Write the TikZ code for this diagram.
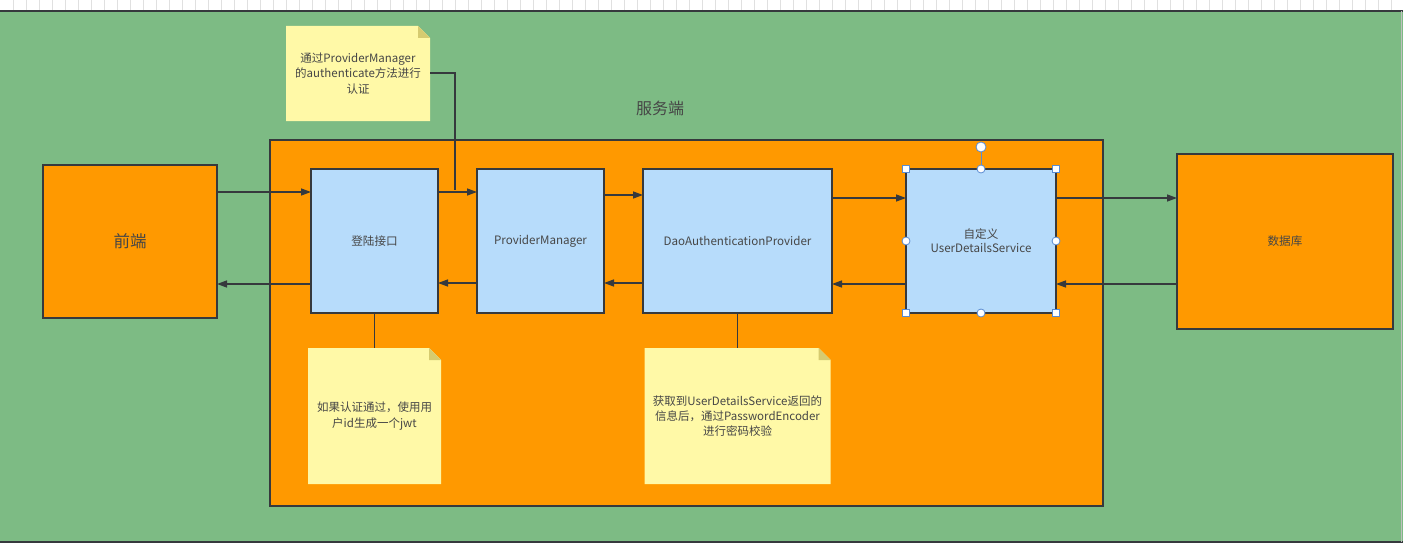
\documentclass[tikz,border=0pt]{standalone}
\usepackage{fontspec}
\setmainfont{Noto Sans CJK SC}
\usetikzlibrary{positioning, arrows.meta}

\definecolor{canvas}{RGB}{125,187,132}
\definecolor{serverorange}{RGB}{255,153,0}
\definecolor{serviceblue}{RGB}{183,220,251}
\definecolor{notefill}{RGB}{255,249,167}
\definecolor{notefold}{RGB}{214,203,112}
\definecolor{edge}{RGB}{54,57,61}
\definecolor{textgrey}{RGB}{70,70,70}
\definecolor{gripblue}{RGB}{90,140,210}

\begin{document}
\begin{tikzpicture}[x=1pt, y=-1pt, node distance=39pt,
    every node/.style={inner sep=0pt, outer sep=0pt, text=textgrey,
        font=\fontsize{11.6}{14}\selectfont},
    block/.style={draw=edge, line width=1.4pt, fill=serverorange},
    service/.style={draw=edge, line width=1.4pt, fill=serviceblue,
        minimum height=144pt, align=center},
    memo/.style={align=center, font=\fontsize{11.5}{15.2}\selectfont,
        path picture={
            \fill[notefill] (path picture bounding box.north west)
                -- ([xshift=-12pt]path picture bounding box.north east)
                -- ([yshift=-12pt]path picture bounding box.north east)
                -- (path picture bounding box.south east)
                -- (path picture bounding box.south west) -- cycle;
            \fill[notefold] ([xshift=-12pt]path picture bounding box.north east)
                -- ([xshift=-12pt,yshift=-12pt]path picture bounding box.north east)
                -- ([yshift=-12pt]path picture bounding box.north east) -- cycle;
        }},
    flow/.style={draw=edge, line width=1.4pt, -{Triangle[length=10pt,width=7pt]}},
    link/.style={draw=edge, line width=1.4pt},
    grip/.style={draw=gripblue, fill=white, line width=0.8pt, minimum size=7pt},
    knob/.style={grip, circle, minimum size=8pt}]

    % window
    \useasboundingbox (0,0) rectangle (1403,543);
    \fill[canvas] (0,0) rectangle (1403,543);
    \fill[white] (0,0) rectangle (1403,11);
    \foreach \x in {13,26,...,1400}
        \draw[black!12, line width=0.6pt] (\x,0) -- (\x,10);
    \draw[edge, line width=1.5pt] (0,11) -- (1403,11);
    \draw[edge, line width=1.5pt] (0,542) -- (1403,542);
    \draw[black!25, line width=0.8pt] (1401.5,11) -- (1401.5,542);

    % server
    \node[block, minimum width=833pt, minimum height=366pt] (server) at (686.5,323) {};
    \node[font=\fontsize{16}{18}\selectfont] (serverlabel) at (660,108) {服务端};

    \node[block, minimum width=174pt, minimum height=153pt,
        font=\fontsize{16.5}{18}\selectfont] (front) at (130,241.5) {前端};
    \node[service, minimum width=127pt] (login) at (374.5,241) {登陆接口};
    \node[service, minimum width=127pt] (pm) [right=of login] {ProviderManager};
    \node[service, minimum width=189pt] (dao) [right=of pm] {DaoAuthenticationProvider};
    \node[service, minimum width=150pt] (uds) [right=74pt of dao] {自定义\\UserDetailsService};
    \node[block, minimum width=216pt, minimum height=175pt] (db) at (1285,241.5) {数据库};

    % notes
    \node[memo, minimum width=144pt, minimum height=95pt] (authnote) at (358,73.5)
        {通过ProviderManager\\的authenticate方法进行\\认证};
    \node[memo, minimum width=133pt, minimum height=136pt] (jwtnote) [below=35pt of login]
        {如果认证通过，使用用\\户id生成一个jwt};
    \node[memo, minimum width=186pt, minimum height=136pt] (pwdnote) [below=35pt of dao]
        {获取到UserDetailsService返回的\\信息后，通过PasswordEncoder\\进行密码校验};

    % requests
    \draw[flow] (front.east |- 0,192) -- (login.west |- 0,192);
    \draw[flow] (login.east |- 0,192) -- (pm.west |- 0,192);
    \draw[flow] (pm.east |- 0,195) -- (dao.west |- 0,195);
    \draw[flow] (dao.east |- 0,198) -- (uds.west |- 0,198);
    \draw[flow] (uds.east |- 0,198) -- (db.west |- 0,198);

    % responses
    \draw[flow] (db.west |- 0,284) -- (uds.east |- 0,284);
    \draw[flow] (uds.west |- 0,284) -- (dao.east |- 0,284);
    \draw[flow] (dao.west |- 0,283) -- (pm.east |- 0,283);
    \draw[flow] (pm.west |- 0,283) -- (login.east |- 0,283);
    \draw[flow] (login.west |- 0,284) -- (front.east |- 0,284);

    % note links
    \coordinate (authjoin) at (455,190);
    \draw[link] (authnote.east |- 0,73) -| (authjoin);
    \draw[link] (login.south) -- (jwtnote.north);
    \draw[link] (dao.south) -- (pwdnote.north);

    % selection handles
    \coordinate (spin) at (981,147);
    \draw[gripblue, line width=0.8pt] (uds.north) -- (spin);
    \node[knob, minimum size=10pt] (spinknob) at (spin) {};
    \foreach \a/\n in {north west/1, north east/2, south east/3, south west/4}
        \node[grip] (corner\n) at (uds.\a) {};
    \foreach \a/\n in {north/1, east/2, south/3, west/4}
        \node[knob] (side\n) at (uds.\a) {};

\end{tikzpicture}
\end{document}
